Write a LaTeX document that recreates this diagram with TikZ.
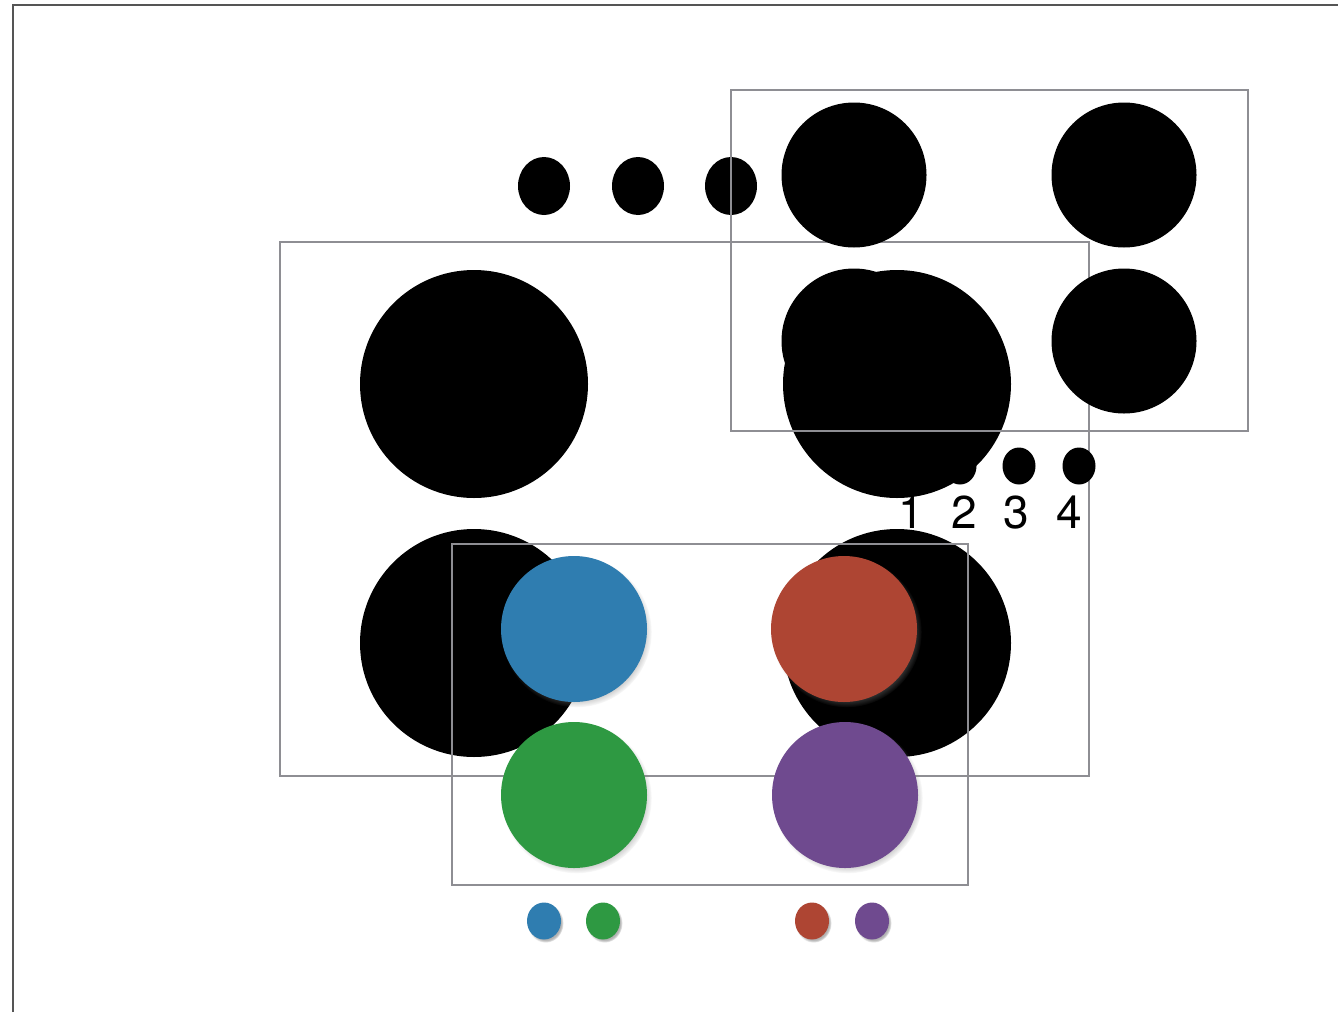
\documentclass[tikz,border=0pt]{standalone}
\usepackage{fontspec}
\setmainfont{TeX Gyre Heros}
\usetikzlibrary{shapes.geometric,shadows}
\definecolor{cblue}{HTML}{2F7DB0}
\definecolor{cred}{HTML}{AE4533}
\definecolor{cgreen}{HTML}{2E9942}
\definecolor{cpurple}{HTML}{6F4A8F}
\definecolor{boxgray}{HTML}{8E8E93}
\definecolor{framegray}{HTML}{555555}
\begin{document}
\begin{tikzpicture}[x=1pt,y=-1pt,
  bigdot/.style={circle,fill=black,inner sep=0,outer sep=0,minimum size=228},
  meddot/.style={circle,fill=black,inner sep=0,outer sep=0,minimum size=145},
  topdot/.style={ellipse,fill=black,inner sep=0,outer sep=0,minimum width=52,minimum height=58},
  smalldot/.style={ellipse,fill=black,inner sep=0,outer sep=0,minimum width=33,minimum height=37},
  boxline/.style={draw=boxgray,line width=2.5},
  coldot/.style={circle,inner sep=0,outer sep=0,minimum size=146,
    circular drop shadow={shadow xshift=2.5pt,shadow yshift=-3pt,shadow scale=1.03,opacity=0.6}},
  tinydot/.style={ellipse,inner sep=0,outer sep=0,minimum width=34,minimum height=37,
    circular drop shadow={shadow xshift=1.5pt,shadow yshift=-2pt,shadow scale=1.06,opacity=0.6}},
  numlabel/.style={inner sep=0,anchor=base,font=\fontsize{46}{48}\selectfont}
]
\useasboundingbox (0,0) rectangle (1338,1012);
\fill[white] (0,0) rectangle (1338,1012);
% page frame
\coordinate (fbl) at (13,1012);
\coordinate (ftl) at (13,5);
\coordinate (ftr) at (1338,5);
\draw[framegray,line width=2] (fbl) -- (ftl) -- (ftr);

% middle box (beneath the circles)
\draw[boxline] (280,242) rectangle (1089,776);

% top small dots
\node[topdot] (t1) at (544,186) {};
\node[topdot] (t2) at (638,186) {};
\node[topdot] (t3) at (731,186) {};

% upper right group
\node[meddot] (m1) at (854,175) {};
\node[meddot] (m2) at (1124,175) {};
\node[meddot] (m3) at (854,341) {};
\node[meddot] (m4) at (1124,341) {};

% small numbered dots
\node[smalldot] (s1) at (900,466) {};
\node[smalldot] (s2) at (960,466) {};
\node[smalldot] (s3) at (1019,466) {};
\node[smalldot] (s4) at (1079,466) {};

% big group
\node[bigdot] (b1) at (474,384) {};
\node[bigdot] (b2) at (897,384) {};
\node[bigdot] (b3) at (474,643) {};
\node[bigdot] (b4) at (897,643) {};

% boxes on top
\draw[boxline] (731,90) rectangle (1248,431);
\draw[boxline] (452,544) rectangle (968,885);

% labels
\node[numlabel] (l1) at (911,528) {1};
\node[numlabel] (l2) at (964,528) {2};
\node[numlabel] (l3) at (1016,528) {3};
\node[numlabel] (l4) at (1069,528) {4};

% coloured circles
\node[coldot,fill=cblue] (c1) at (574,629) {};
\node[coldot,fill=cred] (c2) at (844,629) {};
\node[coldot,fill=cgreen] (c3) at (574,795) {};
\node[coldot,fill=cpurple] (c4) at (845,795) {};

% small coloured dots
\node[tinydot,fill=cblue] (d1) at (544,921) {};
\node[tinydot,fill=cgreen] (d2) at (603,921) {};
\node[tinydot,fill=cred] (d3) at (812,921) {};
\node[tinydot,fill=cpurple] (d4) at (872,921) {};
\end{tikzpicture}
\end{document}
